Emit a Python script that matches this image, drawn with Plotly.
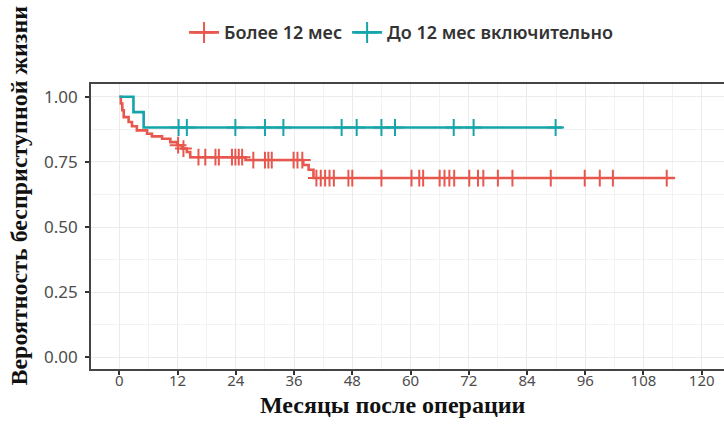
import numpy as np
import plotly.graph_objects as go

# ---- data ----
red_name = "Более 12 мес"
red_times = [0, 0.3, 0.6, 0.9, 1.9, 2.6, 3.6, 5.7, 6.7, 8.8, 10.5, 11.9, 12.9, 13.9, 14.6, 26.0, 37.9, 39.0, 40.0]
red_surv = [1.0, 0.974, 0.948, 0.922, 0.903, 0.887, 0.871, 0.858, 0.848, 0.839, 0.826, 0.814, 0.801, 0.788, 0.768, 0.757, 0.738, 0.72, 0.688]
red_end = 114.4
red_censor = [12.1, 13.2, 16.3, 17.7, 19.8, 20.5, 23.2, 23.9, 24.6, 25.3, 27.6, 30.0, 30.7, 31.4,
              35.9, 36.7, 37.7, 40.6, 41.5, 42.4, 43.3, 44.2, 47.2, 48.0, 54.0, 60.2, 61.8, 62.6,
              66.0, 67.0, 68.0, 69.0, 72.1, 73.9, 75.0, 78.0, 81.0, 88.9, 95.9, 99.0, 101.7, 112.8]

teal_name = "До 12 мес включительно"
teal_times = [0, 2.9, 5.0]
teal_surv = [1.0, 0.941, 0.882]
teal_end = 91.3
teal_censor = [12.2, 13.9, 23.9, 30.0, 33.8, 45.8, 48.9, 54.0, 56.8, 68.9, 73.0, 89.9]

x_ticks = [0, 12, 24, 36, 48, 60, 72, 84, 96, 108, 120]
y_ticks = [0.0, 0.25, 0.5, 0.75, 1.0]
y_ticklabels = ["0.00", "0.25", "0.50", "0.75", "1.00"]
x_title = "Месяцы после операции"
y_title = "Вероятность бесприступной жизни"

RED = "#E8574E"
TEAL = "#14A5AB"


def surv_at(times, survs, ts):
    idx = np.searchsorted(np.array(times), np.array(ts), side="right") - 1
    return list(np.array(survs)[idx])


fig = go.Figure()
for name, times, survs, end, cens, col in [
    (red_name, red_times, red_surv, red_end, red_censor, RED),
    (teal_name, teal_times, teal_surv, teal_end, teal_censor, TEAL),
]:
    fig.add_trace(go.Scatter(
        x=list(times) + [end], y=list(survs) + [survs[-1]],
        mode="lines", line=dict(color=col, width=2.6, shape="hv"),
        showlegend=False, legendgroup=name, hoverinfo="skip"))
    fig.add_trace(go.Scatter(
        x=cens, y=surv_at(times, survs, cens), mode="markers",
        marker=dict(symbol="cross-thin", size=12, line=dict(color=col, width=2)),
        showlegend=False, legendgroup=name))
    fig.add_trace(go.Scatter(
        x=[None], y=[None], mode="lines+markers", name=name, legendgroup=name,
        line=dict(color=col, width=2.6),
        marker=dict(symbol="cross-thin", size=15, line=dict(color=col, width=2))))

grid = "#EBEBEB"
fig.update_layout(
    width=724, height=432,
    margin=dict(l=91, r=0, t=84, b=63),
    paper_bgcolor="white", plot_bgcolor="white",
    font=dict(family="Noto Sans", color="#4D4D4D"),
    legend=dict(orientation="h", x=0.147, xanchor="left", y=1.18, yanchor="middle",
                font=dict(family="Noto Sans", size=18, color="#333333", weight=600),
                itemwidth=30, tracegroupgap=0, bgcolor="rgba(0,0,0,0)"),
    xaxis=dict(range=[-5.85, 124.6], tickvals=x_ticks, ticks="outside", ticklen=4,
               tickwidth=1.5, tickcolor="#333333", tickfont=dict(size=15, color="#4D4D4D"),
               ticklabelstandoff=-7,
               showgrid=True, gridcolor=grid, gridwidth=1.2, zeroline=False,
               showline=True, linecolor="#444444", linewidth=1.6, mirror=True,
               minor=dict(tickvals=[6, 18, 30, 42, 54, 66, 78, 90, 102, 114],
                          showgrid=True, gridcolor="#F2F2F2", gridwidth=0.8)),
    yaxis=dict(range=[-0.045, 1.049], tickvals=y_ticks, ticktext=y_ticklabels,
               ticks="outside", ticklen=4, tickwidth=1.5, tickcolor="#333333",
               tickfont=dict(size=17, color="#4D4D4D"), ticklabelstandoff=4,
               showgrid=True, gridcolor=grid, gridwidth=1.2, zeroline=False,
               showline=True, linecolor="#444444", linewidth=1.6, mirror=False,
               minor=dict(tickvals=[0.125, 0.375, 0.625, 0.875],
                          showgrid=True, gridcolor="#F2F2F2", gridwidth=0.8)),
    annotations=[
        dict(text=x_title, xref="paper", yref="paper", x=0.477, y=-0.125,
             xanchor="center", yanchor="middle", showarrow=False,
             font=dict(family="Liberation Serif", size=24, color="#111111", weight="bold")),
        dict(text=y_title, xref="paper", yref="paper", x=-0.113, y=0.61,
             xanchor="center", yanchor="middle", textangle=-90, showarrow=False,
             font=dict(family="Liberation Serif", size=24, color="#111111", weight="bold")),
    ],
)

fig.write_html("out.html")
